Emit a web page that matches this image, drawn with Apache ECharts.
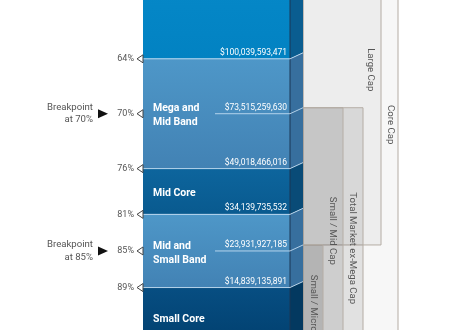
<!DOCTYPE html>
<html><head><meta charset="utf-8">
<script src="https://cdn.jsdelivr.net/npm/echarts@6/dist/echarts.min.js"></script>
<style>html,body{margin:0;padding:0;background:#fff}#c{width:450px;height:330px}</style>
</head><body><div id="c"></div>
<script>
// ---------- data ----------
const breakpoints = [64, 70, 76, 81, 85, 89];
const breakpointLabels = ['64%', '70%', '76%', '81%', '85%', '89%'];
const dollarValues = [100039593471, 73515259630, 49018466016, 34139735532, 23931927185, 14839135891];
const segmentNames = ['', 'Mega and\nMid Band', 'Mid Core', 'Mid and\nSmall Band', 'Small Core'];
const segmentStart = [50, 64, 76, 81, 89];
const segmentEnd = [64, 76, 81, 89, 95.6];
const segmentKind = ['top', 'band', 'core', 'band', 'core2'];
const calloutBreakpoints = [70, 85];
const calloutLabels = ['Breakpoint\nat 70%', 'Breakpoint\nat 85%'];
const capNames = ['Core Cap', 'Large Cap', 'Total Market ex-Mega Cap', 'Small / Mid Cap', 'Small / Micro Cap'];
const capStart = [50, 50, 70, 70, 85];
const capEnd = [100, 85, 100, 100, 100];

// ---------- layout / style ----------
const L = {colL:143, colR:290, innerL:215, depth:13, skew:6, dollarR:287, pctR:134,
           triTip:137, triH:4, nameX:153, nameDy:2, calloutR:93, arrowL:98, arrowR:108, boxL:303};
const capRight = [398, 381, 363, 343, 323];
const capLabelX = [390, 370, 352, 332, 313];
const capLabelPct = [71.2, 65.2, 84.7, 82.8, 87.6];
const capLabelAlign = ['center', 'center', 'center', 'center', 'left'];
const capAlpha = [0.03, 0.045, 0.09, 0.085, 0.13];
const FONT = 'Roboto, "Liberation Sans", sans-serif';
const segStyle = {
  top:   {face:['#078ccc', '#0282c2'], side:'#0a5d90'},
  band:  {face:['#4e97c8', '#4282b4'], side:'#376f9e'},
  core:  {face:['#0d659d', '#095a8f'], side:'#094b77'},
  core2: {face:['#074e82', '#013f6e'], side:'#033960'}
};
function grad(c) {
  return {type:'linear', x:0, y:0, x2:0, y2:1, global:false,
          colorStops:[{offset:0, color:c[0]}, {offset:1, color:c[1]}]};
}
function fmt(v) { return '$' + v.toLocaleString('en-US'); }

const chart = echarts.init(document.getElementById('c'));
chart.setOption({
  animation: false,
  grid: {left:0, right:0, top:0, bottom:0},
  xAxis: {type:'value', min:0, max:450, show:false},
  yAxis: {type:'value', min:57.57, max:93.64, inverse:true, show:false},
  series: [
    // cap boxes
    {
      type:'custom', z:1, clip:true,
      encode:{y:[0, 1]},
      data: capNames.map((n, i) => [capStart[i], capEnd[i]]),
      renderItem(params, api) {
        const i = params.dataIndex;
        const y1 = api.coord([L.boxL, api.value(0)])[1] - L.skew;
        const y2 = api.coord([L.boxL, api.value(1)])[1] - L.skew;
        const ly = api.coord([0, capLabelPct[i]])[1];
        return {type:'group', children:[
          {type:'rect', shape:{x:L.boxL, y:y1, width:capRight[i] - L.boxL, height:y2 - y1},
           style:{fill:'rgba(0,0,0,' + capAlpha[i] + ')', stroke:'#b4aca4', lineWidth:1}},
          {type:'text', x:capLabelX[i], y:ly, rotation:-Math.PI / 2,
           style:{text:capNames[i], fill:'#555', font:'9.6px ' + FONT,
                  align:capLabelAlign[i], verticalAlign:'middle'}}
        ]};
      }
    },
    // column segments
    {
      type:'custom', z:2, clip:true,
      encode:{y:[0, 1]},
      data: segmentNames.map((n, i) => [segmentStart[i], segmentEnd[i]]),
      renderItem(params, api) {
        const i = params.dataIndex;
        const st = segStyle[segmentKind[i]];
        const y1 = api.coord([L.colL, api.value(0)])[1];
        const y2 = api.coord([L.colL, api.value(1)])[1];
        const xr = L.colR + L.depth;
        const ch = [
          {type:'rect', shape:{x:L.colL, y:y1, width:L.colR - L.colL, height:y2 - y1},
           style:{fill:grad(st.face)}},
          {type:'polygon', shape:{points:[[L.colR, y1], [xr, y1 - L.skew], [xr, y2 - L.skew], [L.colR, y2]]},
           style:{fill:st.side}},
          {type:'line', shape:{x1:L.colR, y1:y1, x2:L.colR, y2:y2},
           style:{stroke:'#1a3654', lineWidth:1}}
        ];
        if (segmentNames[i]) {
          ch.push({type:'text', x:L.nameX, y:(y1 + y2) / 2 + L.nameDy,
            style:{text:segmentNames[i], fill:'#fff', font:'bold 10.5px ' + FONT,
                   lineHeight:14, align:'left', verticalAlign:'middle',
                   shadowColor:'rgba(0,0,0,0.45)', shadowOffsetX:0.6, shadowOffsetY:0.6, shadowBlur:1}});
        }
        return {type:'group', children:ch};
      }
    },
    // breakpoint lines, dollar values, markers
    {
      type:'custom', z:3, clip:true,
      encode:{y:0},
      data: breakpoints.map(b => [b]),
      renderItem(params, api) {
        const i = params.dataIndex;
        const bp = api.value(0);
        const y = api.coord([0, bp])[1];
        const x0 = calloutBreakpoints.indexOf(bp) >= 0 ? L.innerL : L.colL;
        return {type:'group', children:[
          {type:'line', shape:{x1:x0, y1:y, x2:L.colR, y2:y},
           style:{stroke:'rgba(200,225,245,0.85)', lineWidth:1}},
          {type:'line', shape:{x1:L.colR, y1:y, x2:L.colR + L.depth, y2:y - L.skew},
           style:{stroke:'rgba(200,225,245,0.85)', lineWidth:1}},
          {type:'text', x:L.dollarR, y:y - 1.5,
           style:{text:fmt(dollarValues[i]), fill:'#fff', font:'8.5px ' + FONT,
                  align:'right', verticalAlign:'bottom'}},
          {type:'polygon', shape:{points:[[L.triTip, y], [L.colL, y - L.triH], [L.colL, y + L.triH]]},
           style:{fill:'#fff', stroke:'#444', lineWidth:1}},
          {type:'text', x:L.pctR, y:y,
           style:{text:breakpointLabels[i], fill:'#555', font:'9px ' + FONT,
                  align:'right', verticalAlign:'middle'}}
        ]};
      }
    },
    // breakpoint callouts
    {
      type:'custom', z:4, clip:true,
      encode:{y:0},
      data: calloutBreakpoints.map(b => [b]),
      renderItem(params, api) {
        const i = params.dataIndex;
        const y = api.coord([0, api.value(0)])[1];
        return {type:'group', children:[
          {type:'text', x:L.calloutR, y:y,
           style:{text:calloutLabels[i], fill:'#555', font:'9.6px ' + FONT, lineHeight:12.5,
                  align:'right', verticalAlign:'middle'}},
          {type:'polygon', shape:{points:[[L.arrowL, y - 4.5], [L.arrowR, y], [L.arrowL, y + 4.5]]},
           style:{fill:'#111'}}
        ]};
      }
    }
  ]
});
</script>
</body></html>
